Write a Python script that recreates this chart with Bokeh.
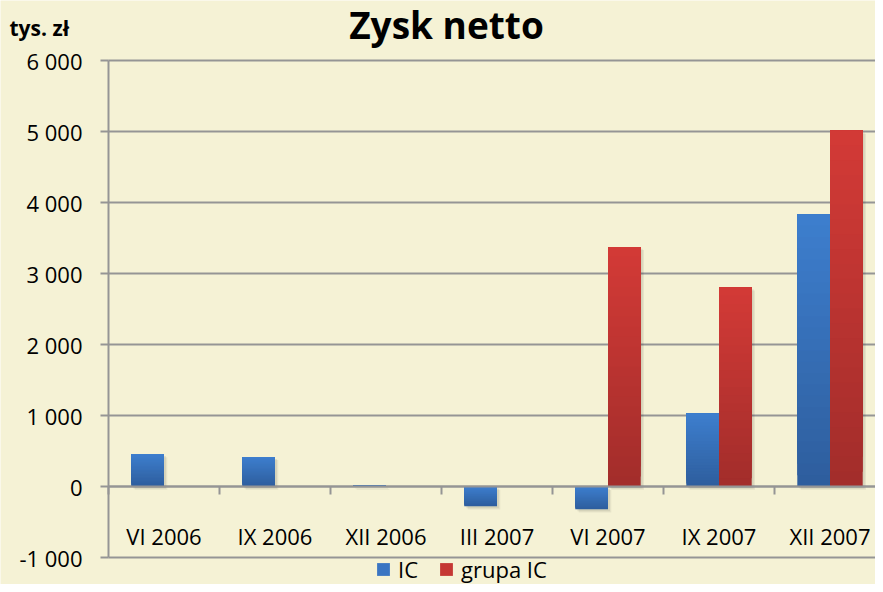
import numpy as np
from bokeh.plotting import figure
from bokeh.models import (Range1d, FixedTicker, Label, Legend, LegendItem, ColumnDataSource)
from bokeh.embed import file_html
from bokeh.resources import INLINE

# ---- data ----
categories = ["VI 2006", "IX 2006", "XII 2006", "III 2007", "VI 2007", "IX 2007", "XII 2007"]
ic_values = [458, 417, 12, -278, -320, 1028, 3833]
grupa_ic_values = [0, 0, 0, 0, 3375, 2806, 5014]
y_ticks = [-1000, 0, 1000, 2000, 3000, 4000, 5000, 6000]
y_tick_labels = ["-1 000", "0", "1 000", "2 000", "3 000", "4 000", "5 000", "6 000"]
series_names = ["IC", "grupa IC"]
title_text = "Zysk netto"
unit_text = "tys. zł"

# ---- style / layout (pixels) ----
BG = "#F5F2D5"
GRID = "#959595"
FONT = "Open Sans"
BLUE_TOP, BLUE_BOT = (61, 126, 205), (46, 94, 158)
RED_TOP, RED_BOT = (210, 58, 54), (163, 45, 43)

W, H = 875, 584
AX_X, TOP_PX, BOT_PX = 108, 60, 27      # y-axis position, plot-area top / bottom margins
CAT_PX = 111.0                          # pixels per category
n = len(categories)
y_lo, y_hi = y_ticks[0], y_ticks[-1]
units_per_px = (y_hi - y_lo) / (H - TOP_PX - BOT_PX)

x_range = Range1d(-AX_X / CAT_PX, (W - AX_X) / CAT_PX)
y_range = Range1d(y_lo - BOT_PX * units_per_px, y_hi + TOP_PX * units_per_px)

p = figure(width=W, height=H, output_backend="svg", toolbar_location=None,
           x_range=x_range, y_range=y_range,
           min_border_left=0, min_border_top=0, min_border_bottom=0, min_border_right=0,
           background_fill_color=BG, border_fill_color=BG)
p.outline_line_color = None
p.xgrid.visible = False
p.ygrid.visible = False

# horizontal grid lines from the axis to the right edge
p.segment(x0=[0] * len(y_ticks), x1=[x_range.end] * len(y_ticks), y0=y_ticks, y1=y_ticks,
          line_color=GRID, line_width=2)

# y axis fixed at x = 0
ya = p.yaxis[0]
ya.fixed_location = 0
ya.bounds = (y_lo, y_hi)
ya.ticker = FixedTicker(ticks=y_ticks)
ya.major_label_overrides = {t: l for t, l in zip(y_ticks, y_tick_labels)}
ya.major_label_text_font = FONT
ya.major_label_text_font_size = "22px"
ya.major_label_text_color = "#000000"
ya.major_tick_out = 8
ya.major_tick_in = 0
ya.minor_tick_line_color = None
ya.axis_line_color = GRID
ya.axis_line_width = 2
ya.major_tick_line_color = GRID
ya.major_tick_line_width = 2
ya.major_label_standoff = 18

# x axis fixed at y = 0: labels at category centres, minor ticks at boundaries
centers = [i + 0.5 for i in range(n)]
bounds = list(range(n + 1))
xa = p.xaxis[0]
xa.fixed_location = 0
xa.bounds = (0, n)
xa.ticker = FixedTicker(ticks=centers, minor_ticks=bounds)
xa.major_label_overrides = {c: l for c, l in zip(centers, categories)}
xa.major_tick_line_color = None
xa.major_tick_out = 0
xa.major_tick_in = 0
xa.minor_tick_out = 8
xa.minor_tick_in = 0
xa.minor_tick_line_color = GRID
xa.minor_tick_line_width = 2
xa.axis_line_color = GRID
xa.axis_line_width = 2
xa.major_label_standoff = 26
xa.major_label_text_font = FONT
xa.major_label_text_font_size = "22px"
xa.major_label_text_color = "#000000"

# bars with vertical gradient (painter's layering)
bar_w = 32.7 / CAT_PX
N_STEPS = 24


def grad_bars(values, offset, top_rgb, bot_rgb):
    vals = np.asarray(values, dtype=float)
    xs = np.array(centers) + offset
    tops = np.maximum(vals, 0)
    bots = np.minimum(vals, 0)
    L, R, T, B, C = [], [], [], [], []
    for k in range(N_STEPS):
        frac = 1 - k / N_STEPS
        t = k / (N_STEPS - 1)
        rgb = tuple(int(round(bot_rgb[j] + (top_rgb[j] - bot_rgb[j]) * t)) for j in range(3))
        col = "#%02x%02x%02x" % rgb
        for x, tp, bt in zip(xs, tops, bots):
            if tp - bt <= 0:
                continue
            L.append(x - bar_w / 2)
            R.append(x + bar_w / 2)
            T.append(tp)
            B.append(tp - (tp - bt) * frac)
            C.append(col)
    src = ColumnDataSource(dict(left=L, right=R, top=T, bottom=B, color=C))
    return p.quad(left="left", right="right", top="top", bottom="bottom",
                  fill_color="color", line_color=None, source=src)


# soft shadows
for vals, off in ((ic_values, -bar_w / 2), (grupa_ic_values, bar_w / 2)):
    v = np.asarray(vals, dtype=float)
    for dx, dy, a in ((0.03, -45, 0.06), (0.018, -28, 0.07)):
        p.vbar(x=np.array(centers) + off + dx, width=bar_w, top=np.maximum(v, 0) + dy,
               bottom=np.minimum(v, 0) + dy, fill_color="#000000", fill_alpha=a,
               line_color=None)

grad_bars(ic_values, -bar_w / 2, BLUE_TOP, BLUE_BOT)
grad_bars(grupa_ic_values, bar_w / 2, RED_TOP, RED_BOT)

# legend at the bottom
leg_ic = p.rect(x=[0], y=[0], width=0, height=0, fill_color="#3A75C2", line_color=None, visible=False)
leg_gr = p.rect(x=[0], y=[0], width=0, height=0, fill_color="#C53834", line_color=None, visible=False)
legend = Legend(items=[LegendItem(label=series_names[0], renderers=[leg_ic]),
                       LegendItem(label=series_names[1], renderers=[leg_gr])],
                orientation="horizontal", location=(375, 0),
                background_fill_alpha=0, border_line_color=None,
                padding=0, margin=0, spacing=20, label_standoff=7,
                glyph_width=16, glyph_height=16, label_height=22,
                label_text_font=FONT, label_text_font_size="22px",
                label_text_color="#000000")
p.add_layout(legend, "center")

# title and unit label
p.add_layout(Label(x=446, y=H + 2, x_units="screen", y_units="screen",
                   text=title_text, text_font=FONT, text_font_style="bold",
                   text_font_size="37px", text_align="center", text_baseline="top",
                   text_color="#000000"))
p.add_layout(Label(x=9, y=H - 27, x_units="screen", y_units="screen",
                   text=unit_text, text_font=FONT, text_font_style="bold",
                   text_font_size="21px", text_align="left", text_baseline="alphabetic",
                   text_color="#000000"))

open("out.html", "w").write(file_html(p, INLINE))
